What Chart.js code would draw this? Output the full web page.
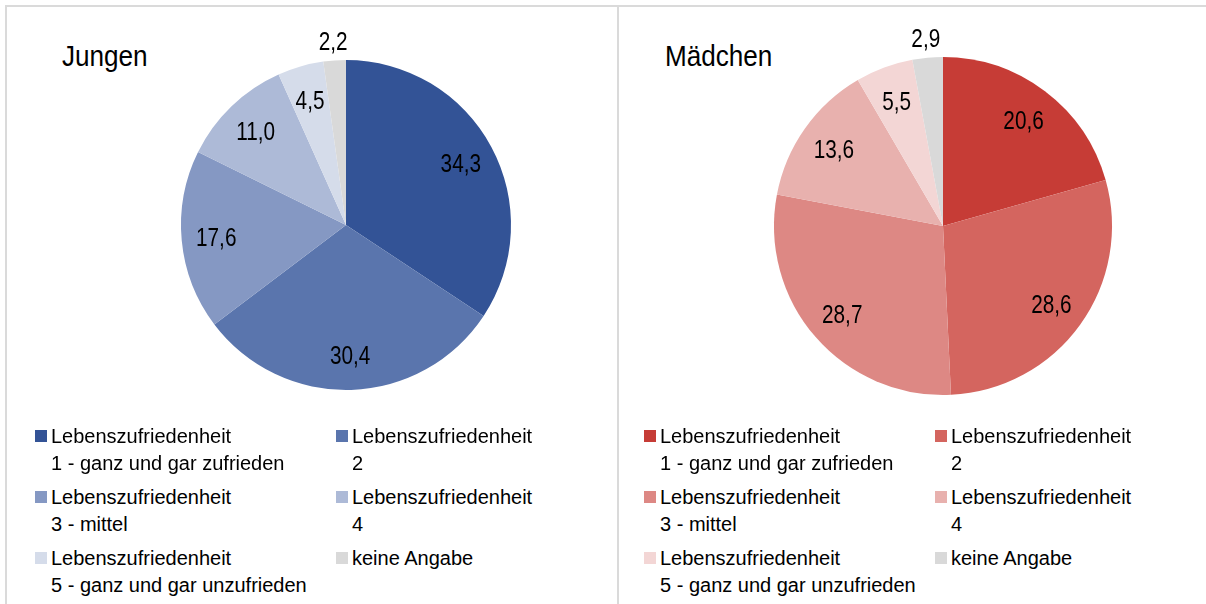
<!DOCTYPE html>
<html lang="de">
<head>
<meta charset="utf-8">
<script src="https://cdn.jsdelivr.net/npm/chart.js@4/dist/chart.umd.min.js"></script>
<style>
    body { margin: 0; width: 1206px; height: 604px; overflow: hidden; background: #fff; font-family: "Liberation Sans", Arial, sans-serif; position: relative; }
    .line { position: absolute; background: #dadada; }
    .title { position: absolute; font-size: 29px; line-height: 29px; color: #000; transform: scaleX(0.9); transform-origin: left top; white-space: nowrap; }
    canvas { position: absolute; }
    .item { position: absolute; font-size: 20px; line-height: 27px; color: #000; padding-left: 16px; white-space: nowrap; }
    .item .box { position: absolute; left: 0; top: 7px; width: 12px; height: 12px; }
</style>
</head>
<body>
<div class="line" style="left:5px; top:5px; width:1201px; height:2px;"></div>
<div class="line" style="left:5px; top:5px; width:2px; height:599px;"></div>
<div class="line" style="left:617px; top:5px; width:2px; height:599px;"></div>

<div class="title" style="left:62px; top:42px;">Jungen</div>
<div class="title" style="left:665px; top:42px;">Mädchen</div>

<canvas id="chartJungen" width="420" height="420" style="left:136px; top:15px;"></canvas>
<canvas id="chartMaedchen" width="420" height="420" style="left:733px; top:16px;"></canvas>

<div id="legendJungen"></div>
<div id="legendMaedchen"></div>

<script>
const categories = [
    ['Lebenszufriedenheit', '1 - ganz und gar zufrieden'],
    ['Lebenszufriedenheit', '2'],
    ['Lebenszufriedenheit', '3 - mittel'],
    ['Lebenszufriedenheit', '4'],
    ['Lebenszufriedenheit', '5 - ganz und gar unzufrieden'],
    ['keine Angabe'],
];
const jungenValues = [34.3, 30.4, 17.6, 11.0, 4.5, 2.2];
const maedchenValues = [20.6, 28.6, 28.7, 13.6, 5.5, 2.9];

const blueColors = ['#335396', '#5a75ad', '#8598c3', '#adbad7', '#d5dcea', '#d9d9d9'];
const redColors = ['#c63c36', '#d4655f', '#dd8884', '#e8b1ae', '#f3d6d5', '#d9d9d9'];

// draws the value labels, small slices go outside
const valueLabels = {
    id: 'valueLabels',
    afterDatasetsDraw(chart) {
        const ctx = chart.ctx;
        const meta = chart.getDatasetMeta(0);
        const values = chart.data.datasets[0].data;
        ctx.save();
        ctx.font = '25px "Liberation Sans", Arial, sans-serif';
        ctx.fillStyle = '#000';
        ctx.textAlign = 'center';
        ctx.textBaseline = 'alphabetic';
        meta.data.forEach((arc, i) => {
            const mid = (arc.startAngle + arc.endAngle) / 2;
            const dist = values[i] < 3 ? arc.outerRadius * 1.12 : arc.outerRadius * 0.79;
            const x = arc.x + Math.cos(mid) * dist;
            const y = arc.y + Math.sin(mid) * dist;
            ctx.save();
            ctx.translate(x, y + 9);
            ctx.scale(0.83, 1);
            ctx.fillText(values[i].toFixed(1).replace('.', ','), 0, 0);
            ctx.restore();
        });
        ctx.restore();
    }
};

function makePie(id, values, colors, radius) {
    return new Chart(document.getElementById(id), {
        type: 'pie',
        data: {
            labels: categories,
            datasets: [{
                data: values,
                backgroundColor: colors,
                borderWidth: 0,
            }],
        },
        options: {
            responsive: false,
            animation: false,
            radius: radius,
            layout: { padding: 0 },
            plugins: {
                legend: { display: false },
                tooltip: { enabled: false },
            },
        },
        plugins: [valueLabels],
    });
}

function makeLegend(id, chart, colX, topY) {
    const holder = document.getElementById(id);
    const items = chart.options.plugins.legend.labels.generateLabels(chart);
    items.forEach((item, i) => {
        const el = document.createElement('div');
        el.className = 'item';
        el.style.left = colX[i % 2] + 'px';
        el.style.top = (topY + Math.floor(i / 2) * 61) + 'px';
        const box = document.createElement('span');
        box.className = 'box';
        box.style.background = item.fillStyle;
        el.appendChild(box);
        const lines = Array.isArray(item.text) ? item.text : [item.text];
        lines.forEach((t) => {
            const line = document.createElement('div');
            line.textContent = t;
            el.appendChild(line);
        });
        holder.appendChild(el);
    });
}

const jungenChart = makePie('chartJungen', jungenValues, blueColors, 165);
const maedchenChart = makePie('chartMaedchen', maedchenValues, redColors, 169);

makeLegend('legendJungen', jungenChart, [35, 336], 423);
makeLegend('legendMaedchen', maedchenChart, [644, 935], 423);
</script>
</body>
</html>
